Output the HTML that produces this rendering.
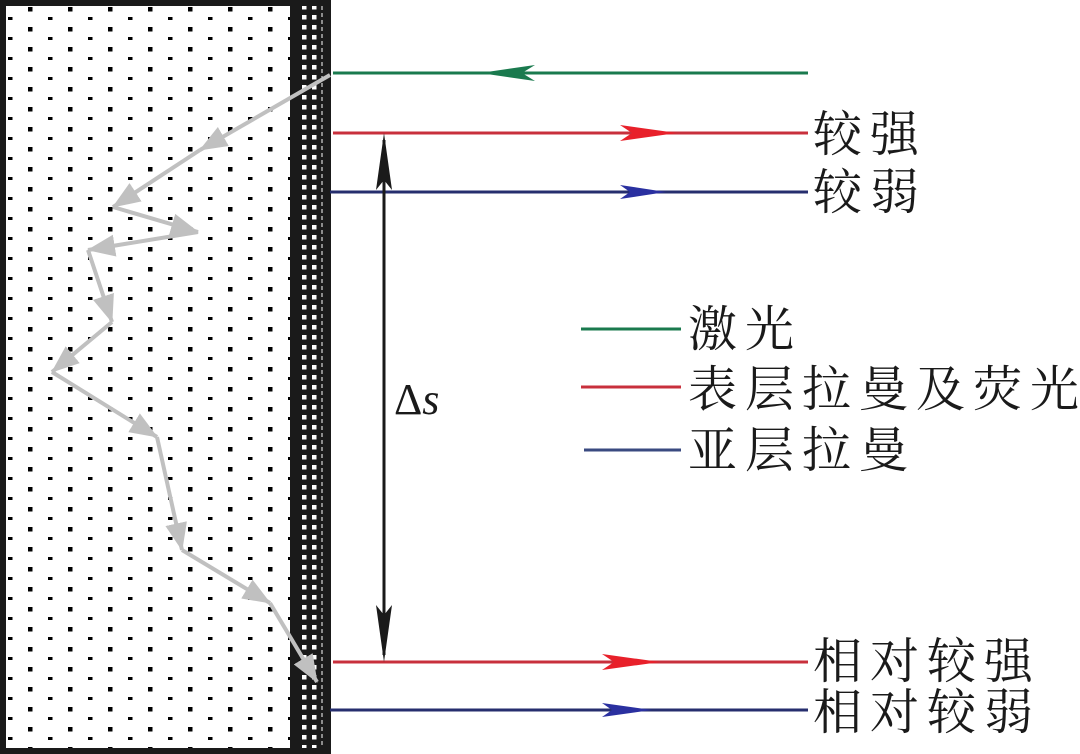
<!DOCTYPE html>
<html><head><meta charset="utf-8"><style>
html,body{margin:0;padding:0;background:#fff;}
svg{display:block;}
.t{font-family:"Noto Serif CJK SC","Liberation Serif",serif;font-size:49px;fill:#1a1a1a;letter-spacing:8px;}
.d{font-family:"Liberation Serif",serif;font-size:44px;fill:#1a1a1a;}
</style></head><body>
<svg width="1080" height="754" viewBox="0 0 1080 754" xmlns="http://www.w3.org/2000/svg">
<defs>
<pattern id="dots" x="0" y="0" width="40" height="20" patternUnits="userSpaceOnUse">
<rect x="28" y="7" width="4.5" height="4.5" fill="#000"/>
<rect x="8" y="17" width="4.5" height="4.5" fill="#000"/>
</pattern>
<pattern id="sq" x="0" y="0" width="30" height="10" patternUnits="userSpaceOnUse">
<rect x="2" y="5" width="4.5" height="4.5" fill="#fff"/>
<rect x="12" y="5" width="4.5" height="4.5" fill="#fff"/>
</pattern>
<marker id="ga" markerWidth="30" markerHeight="24" refX="27" refY="12" orient="auto" markerUnits="userSpaceOnUse">
<path d="M0,1 L28,12 L0,23 Z" fill="#c0c0c0"/>
</marker>
</defs>
<rect x="0" y="0" width="331" height="754" fill="#1a1a1a"/>
<rect x="6" y="6" width="284" height="742" fill="#fff"/>
<rect x="6" y="6" width="284" height="742" fill="url(#dots)"/>
<rect x="300" y="6" width="22" height="742" fill="url(#sq)"/>
<line x1="322" y1="6" x2="322" y2="748" stroke="#fff" stroke-width="1" stroke-dasharray="4,3"/>
<g stroke="#c0c0c0" stroke-width="4" fill="none" marker-end="url(#ga)">
<line x1="330" y1="75" x2="200" y2="150"/>
<line x1="200" y1="150" x2="113" y2="207"/>
<line x1="113" y1="207" x2="198" y2="232"/>
<line x1="198" y1="232" x2="88" y2="250"/>
<line x1="88" y1="250" x2="112" y2="322"/>
<line x1="112" y1="322" x2="52" y2="372"/>
<line x1="52" y1="372" x2="157" y2="437"/>
<line x1="157" y1="437" x2="182" y2="550"/>
<line x1="182" y1="550" x2="270" y2="603"/>
<line x1="270" y1="603" x2="317" y2="682"/>
</g>
<line x1="333" y1="73" x2="808" y2="73" stroke="#1a7a4e" stroke-width="3"/>
<path d="M480,73 L535,65 L522,73 L535,81 Z" fill="#1a7a4e"/>
<line x1="333" y1="133" x2="808" y2="133" stroke="#c8303c" stroke-width="3"/>
<path d="M677,133 L620,125 L632,133 L620,141 Z" fill="#e8202a"/>
<line x1="330" y1="192" x2="808" y2="192" stroke="#262e6e" stroke-width="3"/>
<path d="M666,192 L620,185 L630,192 L620,199 Z" fill="#2a30a0"/>
<line x1="333" y1="662" x2="808" y2="662" stroke="#c8303c" stroke-width="3"/>
<path d="M660,662 L602,654 L614,662 L602,670 Z" fill="#e8202a"/>
<line x1="330" y1="710" x2="808" y2="710" stroke="#262e6e" stroke-width="3"/>
<path d="M652,710 L602,703 L612,710 L602,717 Z" fill="#2a30a0"/>
<line x1="384" y1="140" x2="384" y2="655" stroke="#1a1a1a" stroke-width="3"/>
<path d="M384,133 L392,190 L384,180 L376,190 Z" fill="#1a1a1a"/>
<path d="M384,662 L392,605 L384,615 L376,605 Z" fill="#1a1a1a"/>
<text class="d" x="394" y="414">Δ<tspan font-style="italic">s</tspan></text>
<line x1="581" y1="329" x2="681" y2="329" stroke="#1a7a4e" stroke-width="3"/>
<line x1="581" y1="387" x2="681" y2="387" stroke="#c8303c" stroke-width="3"/>
<line x1="584" y1="450" x2="681" y2="450" stroke="#3a4a80" stroke-width="3"/>
<text class="t" x="688" y="346">激光</text>
<text class="t" x="688" y="406">表层拉曼及荧光</text>
<text class="t" x="688" y="467">亚层拉曼</text>
<text class="t" x="813" y="151">较强</text>
<text class="t" x="813" y="209">较弱</text>
<text class="t" x="813" y="678">相对较强</text>
<text class="t" x="813" y="729">相对较弱</text>
</svg>
</body></html>
